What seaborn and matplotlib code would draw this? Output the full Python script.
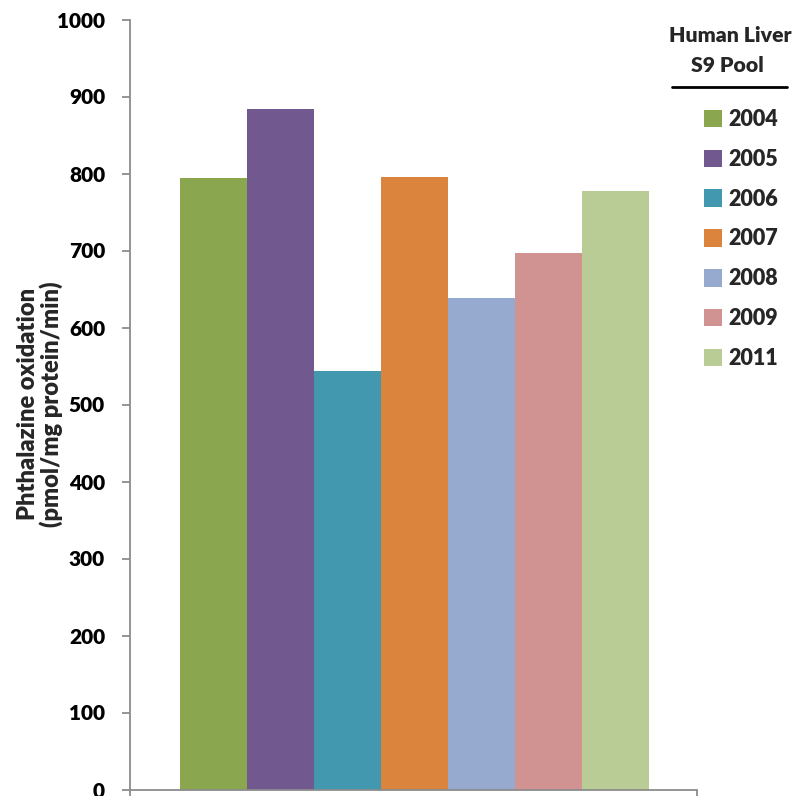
import matplotlib
matplotlib.use("Agg")
import matplotlib.pyplot as plt
from matplotlib.patches import Patch
from matplotlib.lines import Line2D
import seaborn as sns
import pandas as pd

years = ["2004", "2005", "2006", "2007", "2008", "2009", "2011"]
oxidation = [794, 884, 543, 796, 638, 697, 777]
colors = ["#8AA64F", "#71588F", "#4198AF", "#DB843D", "#96A9CF", "#D19392", "#B9CC95"]
y_ticks = [0, 100, 200, 300, 400, 500, 600, 700, 800, 900, 1000]

sns.set_theme(style="white")
plt.rcParams["font.family"] = ["Lato", "DejaVu Sans"]

df = pd.DataFrame({"pool": years, "rate": oxidation})

fig = plt.figure(figsize=(7.96, 7.96), dpi=100)
ax = fig.add_axes([130 / 796, 6.5 / 796, 567 / 796, 770 / 796])

sns.barplot(data=df, x="pool", y="rate", hue="pool", palette=colors,
            width=1.0, dodge=False, legend=False, saturation=1, ax=ax)
for p in ax.patches:
    p.set_linewidth(0)

ax.set_xlim(-1.247, 7.22)
ax.set_ylim(0, 1000)
ax.set_yticks(y_ticks)
ax.set_yticklabels([str(t) for t in y_ticks], fontsize=15, fontweight="heavy")
ax.set_xticks([-1.247, 7.22])
ax.set_xticklabels([])
ax.set_xlabel("")
ax.set_ylabel("")

axis_gray = "#8C8C8C"
for side in ["top", "right"]:
    ax.spines[side].set_visible(False)
for side in ["left", "bottom"]:
    ax.spines[side].set_color(axis_gray)
    ax.spines[side].set_linewidth(1.3)
ax.tick_params(axis="both", direction="out", length=6, width=1.3, color=axis_gray,
               left=True, bottom=True, pad=12)
ax.tick_params(axis="y", labelcolor="black")

fig.text(40 / 796, 1 - 404 / 796, "Phthalazine oxidation\n(pmol/mg protein/min)",
         rotation=90, ha="center", va="center", fontsize=17, fontweight="heavy",
         linespacing=0.98)

handles = [Patch(facecolor=c, edgecolor="none") for c in colors]
leg = fig.legend(handles, years, loc="upper left", bbox_to_anchor=(695 / 796, 1 - 100 / 796),
                 frameon=False, prop={"size": 15.5, "weight": "heavy"},
                 handlelength=0.85, handleheight=0.85, handletextpad=0.3,
                 labelspacing=0.88, borderaxespad=0)

fig.text(730 / 796, 1 - 36 / 796, "Human Liver", ha="center", va="center",
         fontsize=15.3, fontweight="heavy")
fig.text(727 / 796, 1 - 66 / 796, "S9 Pool", ha="center", va="center",
         fontsize=15.3, fontweight="heavy")
fig.add_artist(Line2D([672 / 796, 787 / 796], [1 - 87 / 796, 1 - 87 / 796],
                      color="black", linewidth=2, transform=fig.transFigure))

fig.savefig("out.png", dpi=100)
